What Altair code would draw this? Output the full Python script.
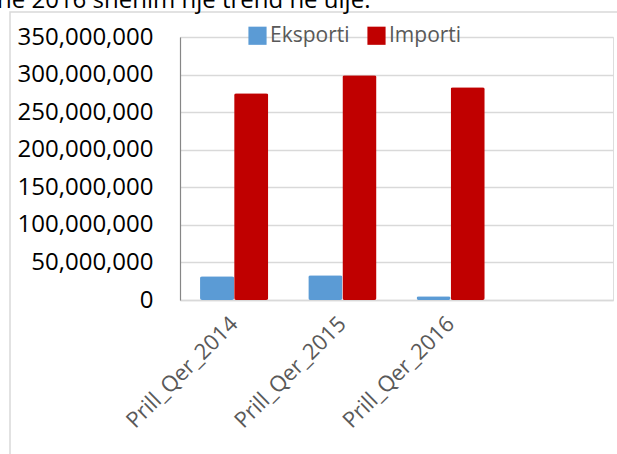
import altair as alt
import pandas as pd

categories = ["Prill_Qer_2014", "Prill_Qer_2015", "Prill_Qer_2016"]
eksporti = [31500000, 33000000, 5000000]
importi = [275000000, 299000000, 283000000]
series = ["Eksporti", "Importi"]
colors = ["#5B9BD5", "#C00000"]
x_domain = categories + [" "]
y_ticks = [0, 50000000, 100000000, 150000000, 200000000, 250000000, 300000000, 350000000]
cut_title = "në 2016 shënim një trend në ulje."

rows = []
for c, e, i in zip(categories, eksporti, importi):
    rows.append({"Periudha": c, "Seria": "Eksporti", "Vlera": e})
    rows.append({"Periudha": c, "Seria": "Importi", "Vlera": i})
df = pd.DataFrame(rows)

FONT = "Open Sans"

bars = alt.Chart(df).mark_bar(cornerRadius=2).encode(
    x=alt.X("Periudha:N", scale=alt.Scale(domain=x_domain, paddingInner=0.37, paddingOuter=0.185),
            axis=alt.Axis(title=None, labelAngle=-45, labelAlign="right", labelBaseline="middle",
                          labelFontSize=22, labelColor="#595959", labelFont=FONT, ticks=False,
                          domainColor="#D9D9D9", domainWidth=1.5, labelPadding=20, grid=False)),
    xOffset=alt.XOffset("Seria:N", scale=alt.Scale(domain=series, paddingInner=0)),
    y=alt.Y("Vlera:Q", scale=alt.Scale(domain=[0, 350000000], nice=False),
            axis=alt.Axis(title=None, values=y_ticks, format=",.0f", labelFontSize=24,
                          labelColor="#000000", labelFont=FONT, ticks=False, domainColor="#868686",
                          domainWidth=1.2, gridColor="#D9D9D9", gridWidth=1.5, labelPadding=27)),
    color=alt.Color("Seria:N", scale=alt.Scale(domain=series, range=colors),
                    legend=alt.Legend(title=None, orient="none", legendX=67, legendY=-12,
                                      direction="horizontal", symbolType="square", symbolSize=330,
                                      symbolStrokeWidth=0, labelFontSize=21, labelColor="#595959",
                                      labelFont=FONT, columnPadding=16, labelOffset=2)),
)

border = alt.Chart(pd.DataFrame({"a": [0]})).mark_rect(fill=None, stroke="#D9D9D9", strokeWidth=1.5).encode(
    x=alt.value(-170), x2=alt.value(450), y=alt.value(-25), y2=alt.value(430)
)

title = alt.Chart(pd.DataFrame({"t": [cut_title]})).mark_text(
    align="left", baseline="alphabetic", fontSize=24, font=FONT, color="#000000"
).encode(x=alt.value(-183), y=alt.value(-29), text="t:N")

chart = alt.layer(border, bars, title).properties(
    width=433, height=263,
    autosize=alt.AutoSizeParams(type="none"),
    padding={"left": 180, "top": 37, "right": 4, "bottom": 154},
).configure_view(stroke=None).configure(background="white")

chart.save("out.html", embed_options={"renderer": "svg", "actions": False})
